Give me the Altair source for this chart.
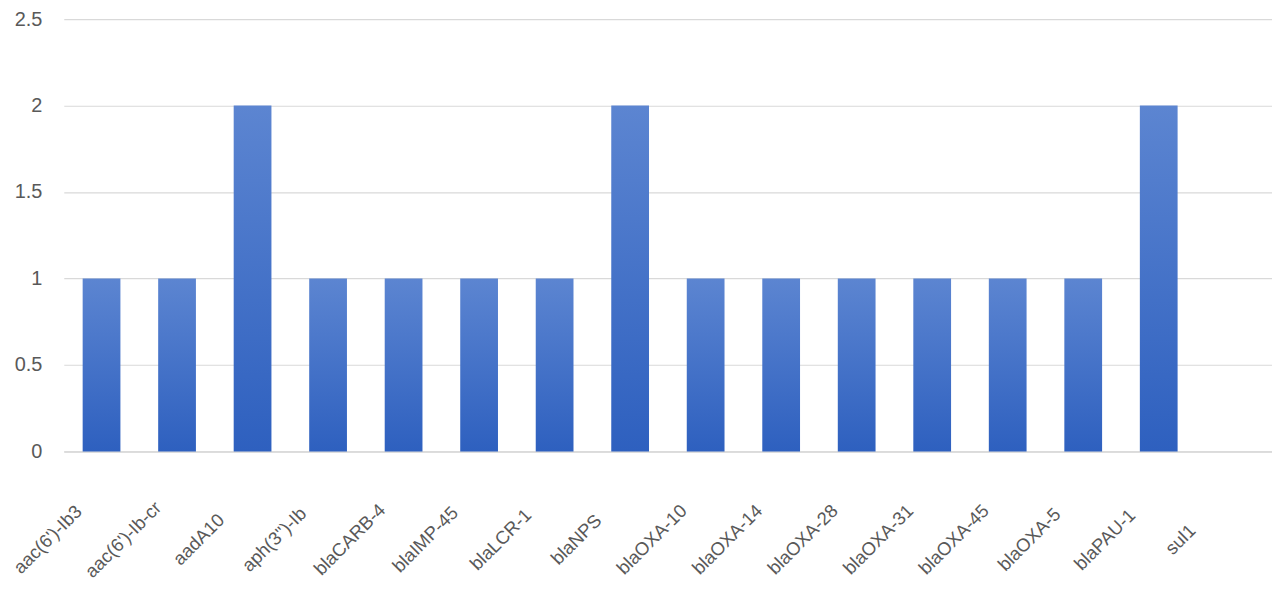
import altair as alt
import pandas as pd

genes = ["aac(6')-Ib3", "aac(6')-Ib-cr", "aadA10", "aph(3'')-Ib", "blaCARB-4",
         "blaIMP-45", "blaLCR-1", "blaNPS", "blaOXA-10", "blaOXA-14",
         "blaOXA-28", "blaOXA-31", "blaOXA-45", "blaOXA-5", "blaPAU-1", "sul1"]
counts = [1, 1, 2, 1, 1, 1, 1, 2, 1, 1, 1, 1, 1, 1, 2, 0]
y_ticks = [0, 0.5, 1, 1.5, 2, 2.5]

df = pd.DataFrame({"gene": genes, "count": counts})

grad = alt.Gradient(
    gradient="linear",
    stops=[alt.GradientStop(color="#5C85D1", offset=0),
           alt.GradientStop(color="#2E60BF", offset=1)],
    x1=0, x2=0, y1=0, y2=1,
)

FONT = "Liberation Sans"

chart = alt.Chart(df).mark_bar(color=grad).encode(
    x=alt.X("gene:N", sort=genes,
            scale=alt.Scale(domain=genes, paddingInner=0.5, paddingOuter=0.25),
            axis=alt.Axis(title=None, labelAngle=-45, labelAlign="center",
                          labelBaseline="middle", labelPadding=88, labelOffset=-54,
                          ticks=False, domainColor="#d9d9d9", domainWidth=1.5,
                          labelFont=FONT, labelFontSize=18.5, labelColor="#595959",
                          labelBound=False, labelOverlap=False, labelFlush=False)),
    y=alt.Y("count:Q",
            scale=alt.Scale(domain=[0, 2.5], nice=False),
            axis=alt.Axis(title=None, values=y_ticks, domain=False, ticks=False,
                          format="~g",
                          gridColor="#d9d9d9", gridWidth=1.2, labelPadding=22,
                          labelFont=FONT, labelFontSize=20, labelColor="#595959")),
).properties(
    width=1213, height=434,
    autosize=alt.AutoSizeParams(type="none"),
    padding={"left": 56, "top": 10, "right": 0, "bottom": 132},
).configure_view(stroke=None)

chart.save("out.html", embed_options={"renderer": "svg", "actions": False})
